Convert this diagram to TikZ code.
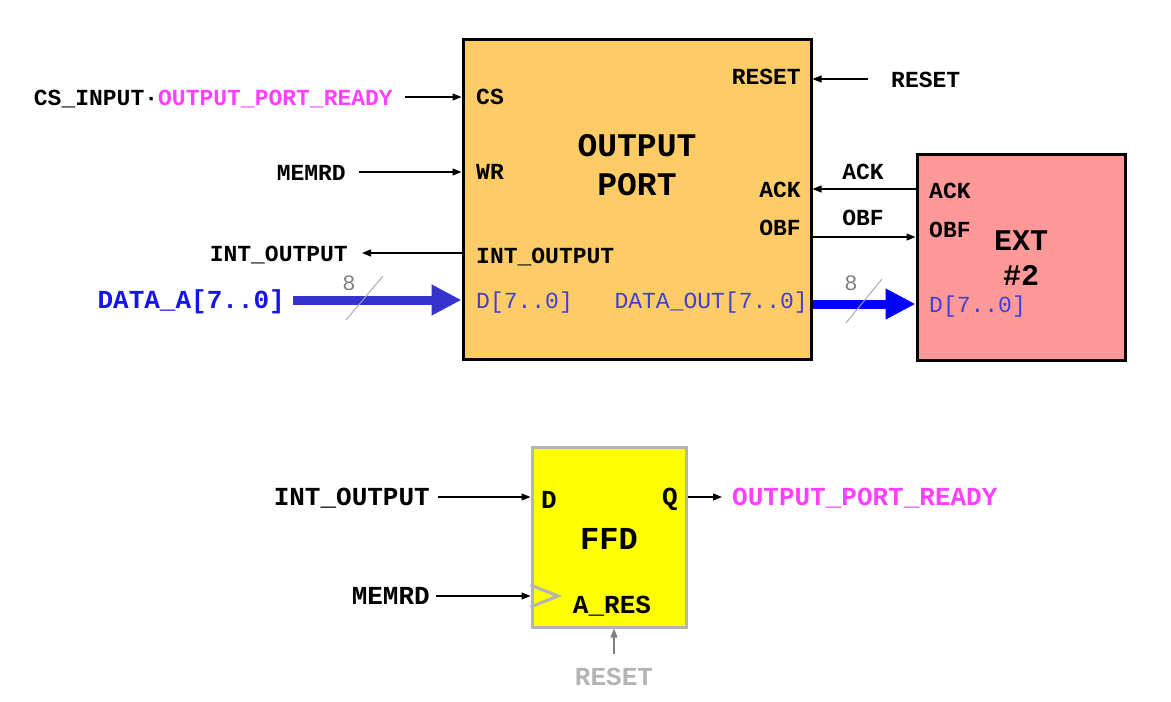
\documentclass[tikz,border=0pt]{standalone}
\usepackage{fontspec}
\setmonofont{Liberation Mono}
\usetikzlibrary{arrows.meta}

\definecolor{portfill}{RGB}{254,204,102}
\definecolor{extfill}{RGB}{255,153,153}
\definecolor{ready}{RGB}{255,64,255}
\definecolor{datablue}{RGB}{20,20,235}
\definecolor{pinblue}{RGB}{64,64,208}
\definecolor{busleft}{RGB}{52,52,204}
\definecolor{ffdgray}{RGB}{180,180,180}
\definecolor{ffdfill}{RGB}{255,255,0}

\begin{document}
\begin{tikzpicture}[x=1pt,y=-1pt,>={Triangle[length=9pt,width=7pt]},
    txt/.style={inner sep=0pt, text height=16pt, text depth=0pt, font=\fontsize{23}{28}\selectfont\ttfamily\bfseries},
    bigtxt/.style={txt, text height=17pt, font=\fontsize{26}{30}\selectfont\ttfamily\bfseries},
    pintxt/.style={txt, font=\fontsize{23}{28}\selectfont\ttfamily, text=pinblue},
    title/.style={inner sep=0pt, align=center, font=\fontsize{33}{39}\selectfont\ttfamily\bfseries},
    blockbox/.style={draw, line width=3pt, inner sep=0pt},
    sig/.style={->, line width=1.1pt},
    fat/.style={line width=9pt, -{Triangle[length=30pt,width=29pt]}},
    slash/.style={draw=gray!70, line width=0.9pt},
    busnum/.style={inner sep=0pt, text=gray, font=\fontsize{22}{26}\selectfont\ttfamily}]

    \useasboundingbox (0,0) rectangle (1171,702);

    % blocks
    \node[blockbox, fill=portfill, minimum width=348pt, minimum height=320pt] (port) at (637,199) {};
    \node[blockbox, fill=extfill, minimum width=208pt, minimum height=206pt] (ext) at (1021,257) {};
    \node[blockbox, draw=ffdgray, fill=ffdfill, minimum width=154pt, minimum height=180pt] (ffd) at (609,537) {};

    % titles
    \node[title] (porttitle) at (637,165) {OUTPUT\\PORT};
    \node[title, font=\fontsize{30}{35}\selectfont\ttfamily\bfseries] (exttitle) at (1021,258) {EXT\\\#2};
    \node[title, font=\fontsize{32}{38}\selectfont\ttfamily\bfseries] (ffdtitle) at (609,539) {FFD};

    % pins of the port
    \node[txt, anchor=west] (pcs) at (476,96) {CS};
    \node[txt, anchor=west] (pwr) at (476,171) {WR};
    \node[txt, anchor=west] (pint) at (476,255) {INT\_OUTPUT};
    \node[pintxt, anchor=west] (pd) at (476,300) {D[7..0]};
    \node[txt, anchor=east] (prst) at (801,76) {RESET};
    \node[txt, anchor=east] (pack) at (801,189) {ACK};
    \node[txt, anchor=east] (pobf) at (801,227) {OBF};
    \node[pintxt, anchor=east] (pdout) at (808,300) {DATA\_OUT[7..0]};

    % pins of ext
    \node[txt, anchor=west] (eack) at (929,190) {ACK};
    \node[txt, anchor=west] (eobf) at (929,229) {OBF};
    \node[pintxt, anchor=west] (ed) at (929,304) {D[7..0]};

    % signals round the port
    \node[txt, anchor=east] (csin) at (393,97) {CS\_INPUT·\textcolor{ready}{OUTPUT\_PORT\_READY}};
    \node[txt, anchor=east] (memrd) at (346,172) {MEMRD};
    \node[txt, anchor=east] (intout) at (348,253) {INT\_OUTPUT};
    \node[bigtxt, anchor=east, text=datablue] (dataa) at (285,300) {DATA\_A[7..0]};
    \node[txt, anchor=west] (rst) at (891,79) {RESET};
    \node[txt] (lack) at (863,171) {ACK};
    \node[txt] (lobf) at (863,217) {OBF};
    \coordinate (wack) at (0,189);
    \coordinate (wobf) at (0,237);
    \coordinate (wbus) at (0,304);

    \draw[sig] ([xshift=12pt]csin.east) -- (csin -| port.west);
    \draw[sig] ([xshift=13pt]memrd.east) -- (memrd -| port.west);
    \draw[sig] (intout -| port.west) -- ([xshift=14pt]intout.east);
    \draw[sig] ([xshift=-23pt]rst.west) -- (rst -| port.east);
    \draw[sig] (wack -| ext.west) -- (wack -| port.east);
    \draw[sig] (wobf -| port.east) -- (wobf -| ext.west);

    % buses
    \draw[fat, draw=busleft] ([xshift=8pt]dataa.east) -- (dataa -| port.west);
    \draw[fat, draw=blue] (wbus -| port.east) -- (wbus -| ext.west);
    \draw[slash] (346,320) -- (383,276);
    \node[busnum] (w8a) at (349,283) {8};
    \draw[slash] (846,323) -- (882,279);
    \node[busnum] (w8b) at (851,283) {8};

    % flip-flop
    \node[bigtxt, anchor=west] (fd) at (541,500) {D};
    \node[bigtxt, anchor=east] (fq) at (678,497) {Q};
    \node[bigtxt] (fres) at (612,605) {A\_RES};
    \draw[ffdgray, line width=3pt] (ffd.west |- 0,585) -- (558,596) -- (ffd.west |- 0,607);

    \node[bigtxt, anchor=east] (ffdin) at (430,497) {INT\_OUTPUT};
    \node[bigtxt, anchor=east] (ffdclk) at (430,596) {MEMRD};
    \node[bigtxt, anchor=west, text=ready] (ffdout) at (732,497) {OUTPUT\_PORT\_READY};
    \node[bigtxt, text=ffdgray] (ffdrst) at (614,677) {RESET};

    \draw[sig] ([xshift=8pt]ffdin.east) -- (ffdin -| ffd.west);
    \draw[sig] ([xshift=6pt]ffdclk.east) -- (ffdclk -| ffd.west);
    \draw[sig] (fq -| ffd.east) -- ([xshift=-10pt]fq -| ffdout.west);
    \draw[sig, gray] ([yshift=14pt]ffdrst.north) -- (ffdrst |- ffd.south);

\end{tikzpicture}
\end{document}
